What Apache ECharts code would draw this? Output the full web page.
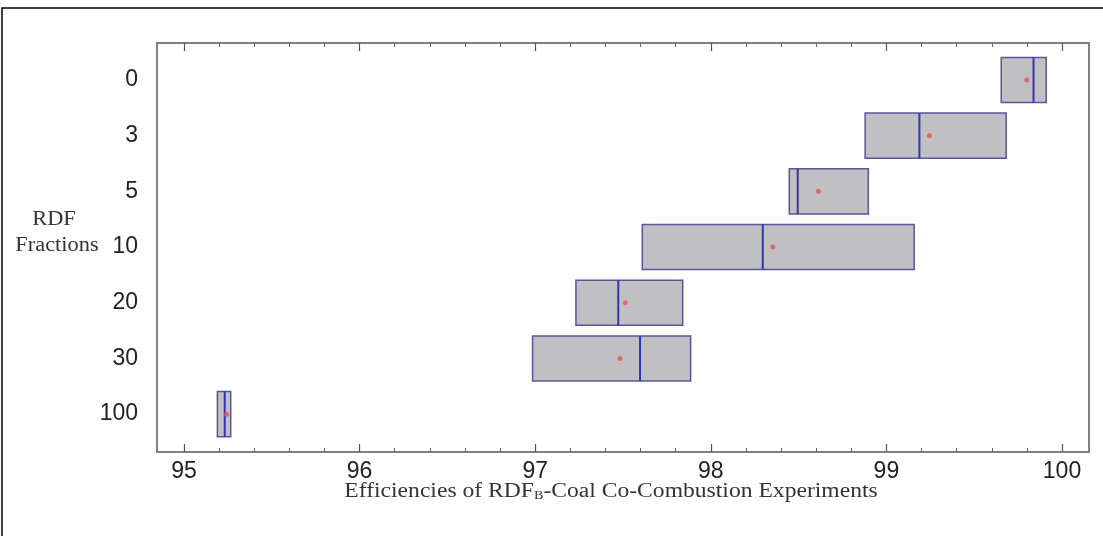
<!DOCTYPE html>
<html>
<head>
<meta charset="utf-8">
<script src="https://cdn.jsdelivr.net/npm/echarts@6/dist/echarts.min.js"></script>
<style>
  html, body { margin: 0; padding: 0; background: #fff; }
  #chart { width: 1103px; height: 536px; }
</style>
</head>
<body>
<div id="chart"></div>
<script>
// RDF fractions, top to bottom
const categories = ['0', '3', '5', '10', '20', '30', '100']
// box edges (lower / upper quartile), median line, mean dot
const lowerQ = [99.654, 98.879, 98.447, 97.610, 97.232, 96.985, 95.190]
const medians = [99.838, 99.188, 98.495, 98.296, 97.473, 97.597, 95.232]
const upperQ = [99.910, 99.682, 98.897, 99.158, 97.840, 97.885, 95.266]
const means = [99.800, 99.245, 98.613, 98.353, 97.513, 97.483, 95.242]
const xTicks = [95, 96, 97, 98, 99, 100]

const boxData = categories.map((c, i) => [i, lowerQ[i], medians[i], upperQ[i]])
const meanData = categories.map((c, i) => [means[i], i])

const chart = echarts.init(document.getElementById('chart'))

const xAxisBase = {
  type: 'value',
  min: xTicks[0],
  max: xTicks[xTicks.length - 1],
  interval: 1,
  axisLine: { show: false, onZero: false },
  axisTick: { show: true, inside: true, length: 8, lineStyle: { color: '#555', width: 1.2 } },
  minorTick: { show: true, splitNumber: 5, length: 4, lineStyle: { color: '#666', width: 1 } },
  splitLine: { show: false }
}

chart.setOption({
  animation: false,
  backgroundColor: '#fff',
  grid: { left: 184, right: 41, top: 43, bottom: 84 },
  xAxis: [
    {
      ...xAxisBase,
      position: 'bottom',
      axisLabel: { fontFamily: 'Liberation Sans', fontSize: 23, color: '#222', margin: 8 }
    },
    {
      ...xAxisBase,
      position: 'top',
      axisLabel: { show: false }
    }
  ],
  yAxis: {
    type: 'value',
    inverse: true,
    min: -0.664,
    max: 6.68,
    axisLine: { show: false, onZero: false },
    axisTick: { show: false },
    splitLine: { show: false },
    axisLabel: {
      fontFamily: 'Liberation Sans',
      fontSize: 23,
      color: '#222',
      margin: 46,
      formatter: v => (Math.abs(v - Math.round(v)) < 1e-6 && categories[Math.round(v)] !== undefined) ? categories[Math.round(v)] : ''
    }
  },
  graphic: [
    {
      type: 'rect',
      shape: { x: 2, y: 8, width: 1200, height: 700 },
      style: { fill: null, stroke: '#000', lineWidth: 1.5 },
      silent: true
    },
    {
      type: 'rect',
      shape: { x: 157, y: 43, width: 932, height: 409 },
      style: { fill: null, stroke: '#808080', lineWidth: 2 },
      silent: true
    },
    {
      type: 'text',
      x: 54, y: 220, scaleX: 1.12,
      style: { text: 'RDF', fontFamily: 'Liberation Serif', fontSize: 20, fill: '#333', align: 'center', verticalAlign: 'middle' }
    },
    {
      type: 'text',
      x: 57, y: 246, scaleX: 1.12,
      style: { text: 'Fractions', fontFamily: 'Liberation Serif', fontSize: 20, fill: '#333', align: 'center', verticalAlign: 'middle' }
    },
    {
      type: 'text',
      x: 611, y: 492, scaleX: 1.18,
      style: {
        text: 'Efficiencies of RDF{sub|B}-Coal Co-Combustion Experiments',
        fontFamily: 'Liberation Serif', fontSize: 20, fill: '#333', align: 'center', verticalAlign: 'middle',
        rich: { sub: { fontFamily: 'Liberation Serif', fontSize: 12, fill: '#333', verticalAlign: 'bottom', padding: [6, 0, 0, 0] } }
      }
    }
  ],
  series: [
    {
      type: 'custom',
      xAxisIndex: 0,
      data: boxData,
      encode: { x: [1, 2, 3], y: 0 },
      renderItem(params, api) {
        const idx = api.value(0)
        const lo = api.coord([api.value(1), idx])
        const md = api.coord([api.value(2), idx])
        const hi = api.coord([api.value(3), idx])
        const h = api.size([0, 1])[1] * 0.81
        return {
          type: 'group',
          children: [
            {
              type: 'rect',
              shape: { x: lo[0], y: lo[1] - h / 2, width: hi[0] - lo[0], height: h },
              style: { fill: '#c0c0c2', stroke: '#55559a', lineWidth: 1.5 }
            },
            {
              type: 'line',
              shape: { x1: md[0], y1: lo[1] - h / 2, x2: md[0], y2: lo[1] + h / 2 },
              style: { stroke: '#3434b0', lineWidth: 2 }
            }
          ]
        }
      }
    },
    {
      type: 'scatter',
      xAxisIndex: 0,
      data: meanData,
      symbol: 'circle',
      symbolSize: 5,
      itemStyle: { color: '#e05454' },
      z: 5
    }
  ]
})
</script>
</body>
</html>
